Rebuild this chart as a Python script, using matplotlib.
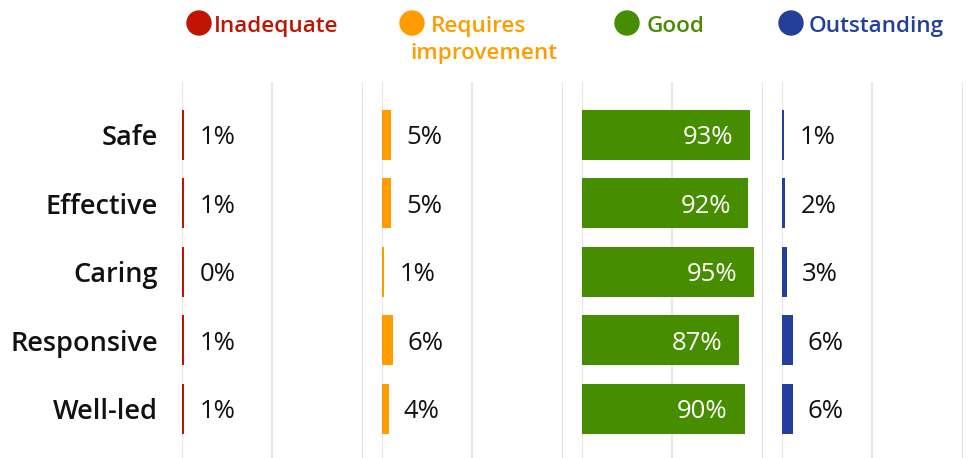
import numpy as np
import matplotlib
matplotlib.use("Agg")
import matplotlib.pyplot as plt
from matplotlib.patches import Circle

plt.rcParams["font.family"] = ["Open Sans", "DejaVu Sans"]

categories = ["Safe", "Effective", "Caring", "Responsive", "Well-led"]
inadequate = [1, 1, 0, 1, 1]
requires_improvement = [5, 5, 1, 6, 4]
good = [93, 92, 95, 87, 90]
outstanding = [1, 2, 3, 6, 6]

series = [
    ("Inadequate", inadequate, "#c01402"),
    ("Requires improvement", requires_improvement, "#ff9d00"),
    ("Good", good, "#478d00"),
    ("Outstanding", outstanding, "#233f9b"),
]

W, H = 971, 458
fig = plt.figure(figsize=(W / 100, H / 100), dpi=100)

x0s = [181.7, 381.7, 581.7, 781.7]
pw = 181.3
top, bottom = 82, 458
y = np.arange(len(categories))

for i, (name, vals, col) in enumerate(series):
    ax = fig.add_axes([x0s[i] / W, 1 - bottom / H, pw / W, (bottom - top) / H])
    vals = np.array(vals, dtype=float)
    shown = np.maximum(vals, 1.5)
    ax.barh(y, shown, height=0.73, color=col, zorder=2)
    ax.set_xlim(0, 100)
    ax.set_ylim(4.72, -0.77)
    ax.set_xticks([0, 50, 100])
    ax.grid(True, axis="x", color="#e6e6e6", linewidth=1.5, zorder=0)
    ax.tick_params(left=False, bottom=False, labelleft=False, labelbottom=False)
    for s in ax.spines.values():
        s.set_visible(False)
    for yy, v, sv in zip(y, vals, shown):
        if name == "Good":
            ax.text(sv - 9.4, yy, f"{v:.0f}%", ha="right", va="center_baseline",
                    color="white", fontsize=18.5)
        else:
            ax.text(sv + 8.3, yy, f"{v:.0f}%", ha="left", va="center_baseline",
                    color="#111111", fontsize=18.5)
    if i == 0:
        for yy, c in zip(y, categories):
            ax.text(-13, yy, c, ha="right", va="center_baseline", fontsize=19.5,
                    fontweight="semibold", color="#111111")

# legend drawn as circles + text in figure pixels
lax = fig.add_axes([0, 0, 1, 1])
lax.set_xlim(0, W)
lax.set_ylim(H, 0)
lax.axis("off")
leg = [
    (199, 214, ["Inadequate"], "#c01402"),
    (412, 431, ["Requires", "improvement"], "#ff9d00"),
    (627, 647, ["Good"], "#478d00"),
    (791, 809, ["Outstanding"], "#233f9b"),
]
for cx, tx, lines, col in leg:
    lax.add_patch(Circle((cx, 23), 12, color=col))
    lax.text(tx, 24, lines[0], ha="left", va="center_baseline", fontsize=16.2,
             fontweight="semibold", color=col)
    if len(lines) > 1:
        lax.text(cx - 2, 51, lines[1], ha="left", va="center_baseline", fontsize=16.2,
                 fontweight="semibold", color=col)

fig.savefig("out.png", dpi=100)
